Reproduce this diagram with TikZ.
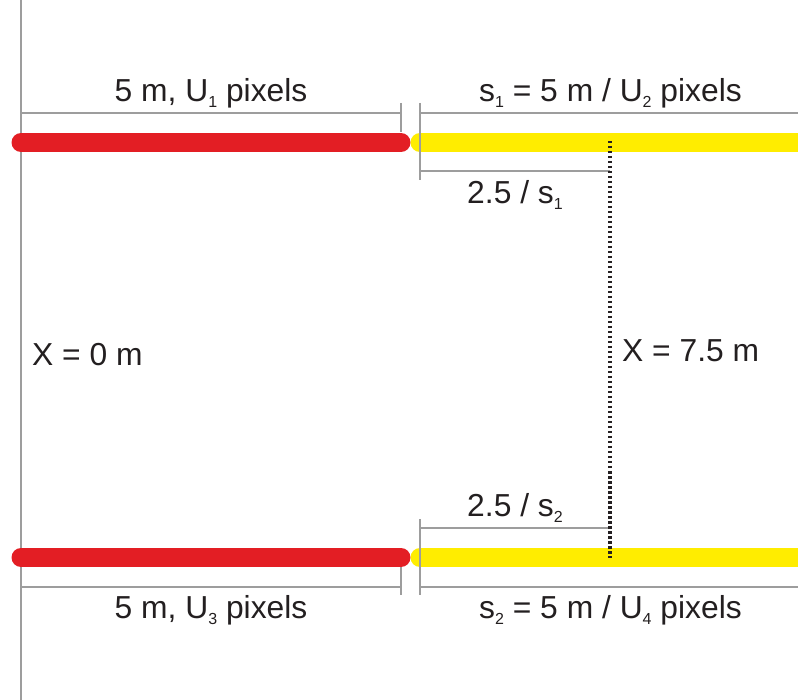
\documentclass[tikz,border=0pt]{standalone}
\usepackage{fontspec}
\setmainfont{Liberation Sans}
\definecolor{barred}{HTML}{E31E24}
\definecolor{baryellow}{HTML}{FFED00}
\definecolor{dimgray}{HTML}{9D9D9D}
\definecolor{txt}{HTML}{231F20}
\newcommand{\subx}[1]{\raisebox{-6pt}{\fontsize{16}{16}\selectfont #1}}
\begin{document}
\begin{tikzpicture}[x=1pt,y=-1pt,
  dimline/.style={draw=dimgray,line width=1.5pt},
  barline/.style={line width=19pt},
  lbl/.style={inner sep=0pt,text=txt,font=\fontsize{31.8}{32}\selectfont},
  dotline/.style={draw=txt,line width=3.6pt,dash pattern=on 2.5pt off 2.5pt}]
\useasboundingbox (0,0) rectangle (798,700);
% left reference line
\draw[dimline] (21,0) -- (21,700);
% bars
\draw[barline,draw=barred,line cap=round] (21,142.5) -- (401,142.5);
\draw[barline,draw=baryellow,line cap=round] (420,142.5) -- (830,142.5);
\draw[barline,draw=barred,line cap=round] (21,557.5) -- (401,557.5);
\draw[barline,draw=baryellow,line cap=round] (420,557.5) -- (830,557.5);
\fill[white] (798,0) rectangle (840,700);
% top dimension lines
\draw[dimline] (21,113) -- (401,113);
\draw[dimline] (401,103) -- (401,132);
\draw[dimline] (420,113) -- (798,113);
\draw[dimline] (420,103) -- (420,180);
\draw[dimline] (420,171) -- (610,171);
% bottom dimension lines
\draw[dimline] (21,587) -- (401,587);
\draw[dimline] (401,567) -- (401,595);
\draw[dimline] (420,587) -- (798,587);
\draw[dimline] (420,519) -- (420,595);
\draw[dimline] (420,528) -- (610,528);
% dotted line at X = 7.5 m
\coordinate (dtop) at (610,141);
\coordinate (dbot) at (610,558);
\draw[dotline] (dtop) -- (dbot);
% labels
\node[lbl,anchor=base] (l1) at (211,102) {5 m, U\subx{1} pixels};
\node[lbl,anchor=base] (l2) at (610.5,102) {s\subx{1} = 5 m / U\subx{2} pixels};
\node[lbl,anchor=base] (l3) at (515,204) {2.5 / s\subx{1}};
\node[lbl,anchor=base west] (l4) at (32,366) {X = 0 m};
\node[lbl,anchor=base west] (l5) at (622,362) {X = 7.5 m};
\node[lbl,anchor=base] (l6) at (515,516) {2.5 / s\subx{2}};
\node[lbl,anchor=base] (l7) at (211,618) {5 m, U\subx{3} pixels};
\node[lbl,anchor=base] (l8) at (610.5,618) {s\subx{2} = 5 m / U\subx{4} pixels};
\end{tikzpicture}
\end{document}
